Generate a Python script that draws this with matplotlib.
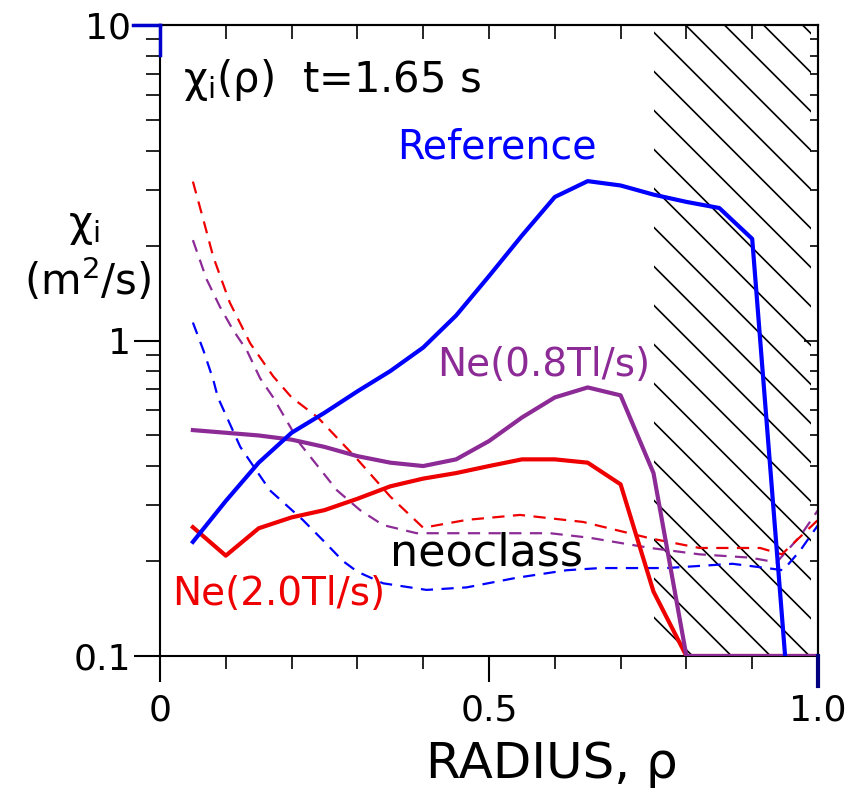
import numpy as np
import matplotlib
matplotlib.use("Agg")
import matplotlib.pyplot as plt
from matplotlib.ticker import FixedLocator, MultipleLocator, NullFormatter, LogLocator
from matplotlib.patches import Rectangle

plt.rcParams['font.family'] = ['DejaVu Sans']
plt.rcParams['mathtext.fontset'] = 'dejavusans'

# ---- data ----
rho_grid = [0.05, 0.10, 0.15, 0.20, 0.25, 0.30, 0.35, 0.40, 0.45, 0.50,
            0.55, 0.60, 0.65, 0.70, 0.75, 0.80, 0.85, 0.90, 0.95, 1.00]

chi_reference = [0.23, 0.31, 0.41, 0.51, 0.59, 0.69, 0.80, 0.95, 1.20, 1.60,
                 2.15, 2.85, 3.20, 3.10, 2.90, 2.75, 2.63, 2.10, 0.10]
chi_ne08 = [0.52, 0.51, 0.50, 0.485, 0.46, 0.43, 0.41, 0.40, 0.42, 0.48,
            0.57, 0.66, 0.71, 0.67, 0.38, 0.10, 0.10, 0.10, 0.10, 0.10]
chi_ne20 = [0.256, 0.208, 0.254, 0.275, 0.29, 0.315, 0.345, 0.365, 0.38, 0.40,
            0.42, 0.42, 0.41, 0.35, 0.16, 0.10, 0.10, 0.10, 0.10, 0.10]

rho_neo_ref = [0.05, 0.066, 0.081, 0.088, 0.122, 0.167, 0.217, 0.25, 0.278, 0.30,
               0.339, 0.405, 0.466, 0.542, 0.618, 0.669, 0.77, 0.87, 0.922, 0.947,
               0.973, 1.0]
neo_ref = [1.14, 0.93, 0.75, 0.66, 0.46, 0.335, 0.27, 0.23, 0.20, 0.185,
           0.17, 0.162, 0.165, 0.177, 0.187, 0.19, 0.19, 0.196, 0.19, 0.187,
           0.216, 0.26]

rho_neo_08 = [0.05, 0.071, 0.091, 0.111, 0.132, 0.152, 0.172, 0.213, 0.269, 0.304,
              0.339, 0.39, 0.44, 0.517, 0.593, 0.653, 0.745, 0.82, 0.897, 0.937,
              0.973, 1.0]
neo_08 = [2.08, 1.56, 1.28, 1.08, 0.93, 0.76, 0.66, 0.47, 0.335, 0.29,
          0.26, 0.245, 0.245, 0.245, 0.245, 0.237, 0.22, 0.21, 0.205, 0.198,
          0.24, 0.29]

rho_neo_20 = [0.05, 0.066, 0.081, 0.106, 0.137, 0.172, 0.20, 0.24, 0.30, 0.35,
              0.40, 0.466, 0.547, 0.643, 0.745, 0.82, 0.912, 0.945, 1.0]
neo_20 = [3.19, 2.41, 1.84, 1.32, 0.98, 0.77, 0.66, 0.57, 0.42, 0.32,
          0.255, 0.27, 0.28, 0.266, 0.236, 0.22, 0.22, 0.21, 0.27]

BLUE = '#0000ff'
RED = '#ee0000'
PURPLE = '#8c2a96'

fig = plt.figure(figsize=(8.65, 7.97), dpi=100)
W, H = 865, 797
ax = fig.add_axes([160 / W, 1 - 656 / H, 658 / W, 631 / H])
ax.set_yscale('log')
ax.set_xlim(0, 1)
ax.set_ylim(0.1, 10)

# hatched (excluded) region
ax_w_px, ax_h_px = 658.0, 631.0
clip_rect = Rectangle((0.75, 0.0), 0.24, 1.0, transform=ax.transAxes,
                      facecolor='none', edgecolor='none')
ax.add_patch(clip_rect)
spacing = 39.0
for c in np.arange(-ax_h_px, ax_w_px, spacing):
    xs_px = np.array([c, c + ax_w_px + ax_h_px])
    ys_top = xs_px - c
    u = (xs_px + 0.75 * ax_w_px) / ax_w_px
    v = 1 - ys_top / ax_h_px
    ln, = ax.plot(u, v, color='black', lw=1.2, transform=ax.transAxes, zorder=1)
    ln.set_clip_path(clip_rect)

# neoclassical (dashed)
dash = (5.5, 3.8)
ax.plot(rho_neo_ref, neo_ref, color=BLUE, lw=1.6, dashes=dash, zorder=2)
ax.plot(rho_neo_08, neo_08, color=PURPLE, lw=1.6, dashes=dash, zorder=2)
ax.plot(rho_neo_20, neo_20, color=RED, lw=1.6, dashes=dash, zorder=2)

# solid
ax.plot(rho_grid, chi_ne20, color=RED, lw=3.0, zorder=3)
ax.plot(rho_grid[:len(chi_reference)], chi_reference, color=BLUE, lw=3.0, zorder=4)
ax.plot(rho_grid, chi_ne08, color=PURPLE, lw=3.0, zorder=3.5)

# text annotations
ax.text(0.035, 6.15, r'$\mathrm{\chi_i}$(ρ)  t=1.65 s', fontsize=30, color='black', va='baseline', ha='left')
ax.text(0.360, 3.77, 'Reference', fontsize=28.5, color=BLUE, va='baseline', ha='left')
ax.text(0.421, 0.771, 'Ne(0.8Tl/s)', fontsize=28, color=PURPLE, va='baseline', ha='left')
ax.text(0.350, 0.194, 'neoclass', fontsize=32, color='black', va='baseline', ha='left')
ax.text(0.018, 0.1446, 'Ne(2.0Tl/s)', fontsize=28, color=RED, va='baseline', ha='left')

# axis labels
fig.text(84 / W, 1 - 236 / H, r'$\mathrm{\chi_i}$', fontsize=30, ha='center', va='baseline')
fig.text(88 / W, 1 - 295 / H, r'(m$^2$/s)', fontsize=30, ha='center', va='baseline')
fig.text(552 / W, 1 - 778 / H, 'RADIUS, ρ', fontsize=36, ha='center', va='baseline')

# ticks
ax.set_xticks([0, 0.5, 1.0])
ax.set_xticklabels(['0', '0.5', '1.0'])
ax.xaxis.set_minor_locator(MultipleLocator(0.1))
ax.set_yticks([0.1, 1, 10])
ax.set_yticklabels(['0.1', '1', '10'])
ax.yaxis.set_minor_locator(LogLocator(base=10, subs=np.arange(2, 10)))
ax.yaxis.set_minor_formatter(NullFormatter())
ax.tick_params(axis='x', which='major', direction='out', length=19, width=1.5, labelsize=26, pad=8, top=False)
ax.tick_params(axis='x', which='minor', direction='out', length=9, width=1.2, top=False)
ax.tick_params(axis='y', which='major', direction='out', length=19, width=1.5, labelsize=26, pad=2, right=False)
ax.tick_params(axis='y', which='minor', direction='out', length=10, width=1.2, right=False)

secx = ax.secondary_xaxis('top')
secx.set_xticks(np.arange(0.1, 1.0, 0.1))
secx.tick_params(direction='in', length=10, width=1.2, labeltop=False)
secy = ax.secondary_yaxis('right')
secy.yaxis.set_major_locator(FixedLocator([0.1, 1, 10]))
secy.yaxis.set_minor_locator(LogLocator(base=10, subs=np.arange(2, 10)))
secy.yaxis.set_minor_formatter(NullFormatter())
secy.tick_params(which='major', direction='in', length=10, width=1.2, labelright=False)
secy.tick_params(which='minor', direction='in', length=6, width=1.2, labelright=False)

for s in ax.spines.values():
    s.set_linewidth(1.5)
for s in list(secx.spines.values()) + list(secy.spines.values()):
    s.set_linewidth(1.5)

# coloured corner marks seen in the reference
ax.plot([-27 / 658, 0], [1, 1], color='#0000cc', lw=2.5, transform=ax.transAxes, clip_on=False, zorder=6)
ax.plot([0, 0], [1, 1 - 30 / 631], color='#0000cc', lw=2.5, transform=ax.transAxes, clip_on=False, zorder=6)
ax.plot([1, 1], [0, -30 / 631], color='#000080', lw=3, transform=ax.transAxes, clip_on=False, zorder=6)

fig.savefig('out.png', dpi=100)
